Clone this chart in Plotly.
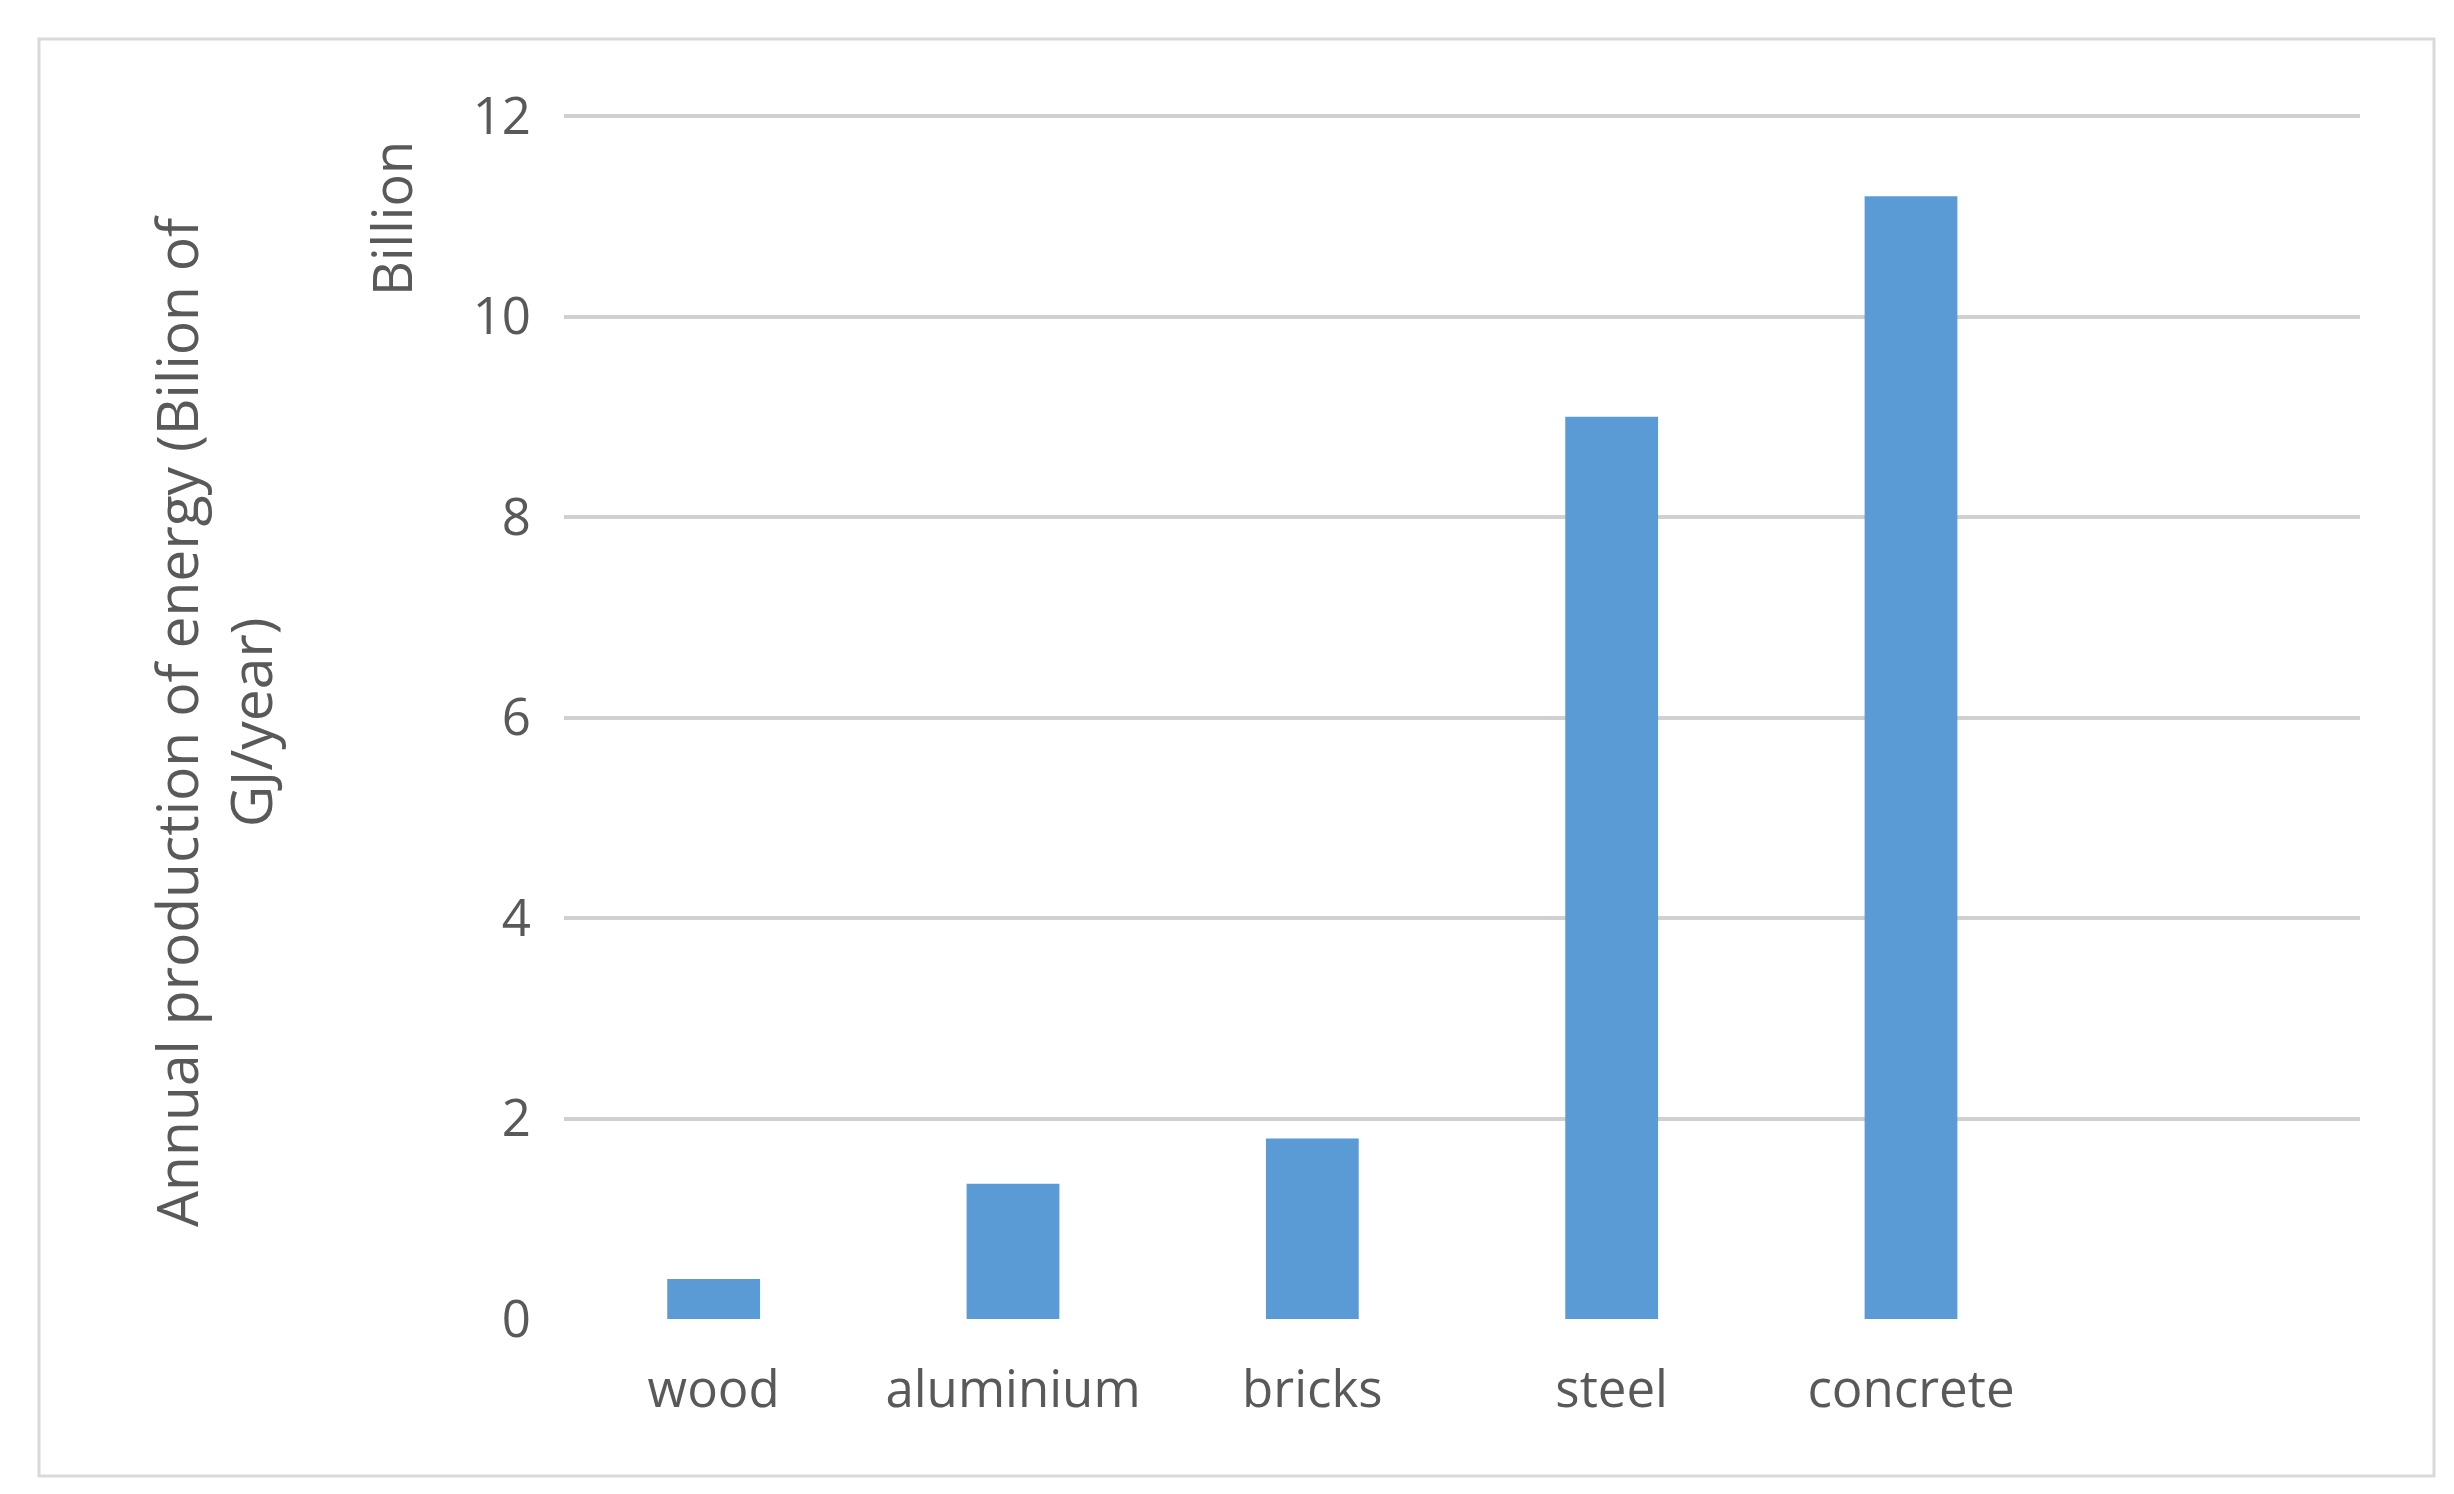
import plotly.graph_objects as go

# Data
# ===================================================
materials = ["wood", "aluminium", "bricks", "steel", "concrete"]
energy = [0.4, 1.35, 1.8, 9.0, 11.2]
tick_vals = [0, 2, 4, 6, 8, 10, 12]

W, H = 2454, 1494
grey = "#595959"
font = "Open Sans"
pw, ph = 2352 - 556, 1311 - 106

fig = go.Figure()
fig.add_trace(go.Bar(
    x=list(range(len(materials))),
    y=energy,
    width=0.31,
    marker=dict(color="#5b9bd5", line_width=0),
))

fig.update_layout(
    width=W, height=H,
    margin=dict(l=556, r=W - 2352, t=106, b=H - 1311),
    plot_bgcolor="white", paper_bgcolor="white",
    showlegend=False,
    font=dict(family=font, color=grey, size=51),
    xaxis=dict(
        range=[-0.5, 5.5],
        tickvals=list(range(len(materials))),
        ticktext=materials,
        showgrid=False, zeroline=False,
        showline=False, ticks="",
        ticklabelstandoff=36,
    ),
    yaxis=dict(
        range=[0, 12.02],
        tickvals=tick_vals,
        gridcolor="#d0d0d0", gridwidth=4,
        zeroline=False, showline=False,
        ticklabelstandoff=32,
    ),
    shapes=[dict(
        type="rect", xref="paper", yref="paper",
        x0=(31 - 556) / pw, x1=(2426 - 556) / pw,
        y0=-(1468 - 1311) / ph, y1=1 + (106 - 31) / ph,
        line=dict(color="#d9d9d9", width=3),
    )],
    annotations=[
        dict(
            text="Annual production of energy (Bilion of<br>GJ/year)",
            xref="paper", yref="paper",
            x=(205 - 556) / pw, y=(1311 - 713) / ph,
            xanchor="center", yanchor="middle",
            showarrow=False, textangle=-90,
            font=dict(size=57, color=grey),
        ),
        dict(
            text="Billion",
            xref="paper", yref="paper",
            x=(383 - 556) / pw, y=(1311 - 211) / ph,
            xanchor="center", yanchor="middle",
            showarrow=False, textangle=-90,
            font=dict(size=54, color=grey),
        ),
    ],
)

fig.write_html("out.html")
